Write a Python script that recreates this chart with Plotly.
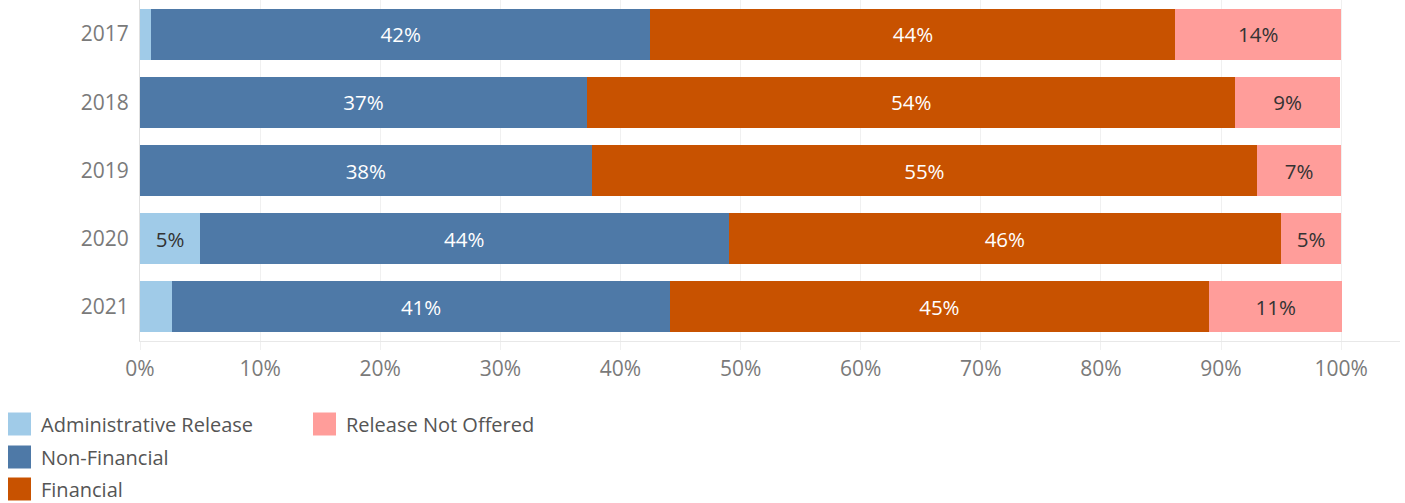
import plotly.graph_objects as go

years = ["2017", "2018", "2019", "2020", "2021"]
series_names = ["Administrative Release", "Non-Financial", "Financial", "Release Not Offered"]
admin = [0.9, 0.0, 0.0, 5.0, 2.7]
non_financial = [41.6, 37.2, 37.6, 44.0, 41.4]
financial = [43.7, 54.0, 55.4, 46.0, 44.9]
not_offered = [13.8, 8.7, 7.0, 5.0, 11.1]
x_ticks = [0, 10, 20, 30, 40, 50, 60, 70, 80, 90, 100]
x_tick_labels = [f"{t}%" for t in x_ticks]

colors = ["#a0cbe8", "#4e79a7", "#c85200", "#ff9d9a"]
text_colors = ["#333333", "#ffffff", "#ffffff", "#333333"]
series = [admin, non_financial, financial, not_offered]

FONT = "Open Sans, sans-serif"

W, H = 1405, 503
ML, MR, MT, MB = 140, 5, 0, 162
PW, PH = W - ML - MR, H - MT - MB

fig = go.Figure()
for name, vals, col, tcol in zip(series_names, series, colors, text_colors):
    labels = [f"{round(v)}%" if v >= 4 else "" for v in vals]
    fig.add_trace(go.Bar(
        y=years, x=vals, name=name, orientation="h",
        marker=dict(color=col, line=dict(width=0)),
        text=labels, textposition="inside", insidetextanchor="middle",
        textangle=0, constraintext="none",
        textfont=dict(color=tcol, size=20.5, family=FONT),
        showlegend=False, hoverinfo="x+y+name",
    ))

fig.update_layout(
    barmode="stack",
    bargap=0.25,
    width=W, height=H,
    margin=dict(l=ML, r=MR, t=MT, b=MB),
    plot_bgcolor="white", paper_bgcolor="white",
    font=dict(family=FONT, color="#777777", size=18),
    xaxis=dict(
        range=[0, 104.9], tickvals=x_ticks, ticktext=x_tick_labels,
        showgrid=True, gridcolor="#f0f0f0", gridwidth=1,
        zeroline=False, showline=True, linecolor="#e8e8e8", linewidth=1,
        ticks="outside", ticklen=8, tickcolor="#f0f0f0",
        ticklabelstandoff=1,
        tickfont=dict(size=21, color="#7a7a7a", family=FONT),
    ),
    yaxis=dict(
        autorange="reversed", showgrid=False, zeroline=False,
        showline=True, linecolor="#e0e0e0", linewidth=1,
        ticks="", ticklabelstandoff=6,
        tickfont=dict(size=21, color="#7a7a7a", family=FONT),
    ),
)

# Manual legend (column-major like the original)
legend_pos = [(0, 0), (0, 1), (0, 2), (1, 0)]
col_x = [8, 313]
row_y = [424, 457, 489]
SQ = 23


def px_x(x):
    return (x - ML) / PW


def px_y(y):
    return (H - MB - y) / PH


for (c, r), name, col in zip(legend_pos, series_names, colors):
    x0 = col_x[c]
    yc = row_y[r]
    fig.add_shape(type="rect", xref="paper", yref="paper",
                  x0=px_x(x0), x1=px_x(x0 + SQ),
                  y0=px_y(yc + SQ / 2), y1=px_y(yc - SQ / 2),
                  fillcolor=col, line=dict(width=0))
    fig.add_annotation(xref="paper", yref="paper",
                       x=px_x(x0 + 31), y=px_y(yc),
                       text=name, showarrow=False, xanchor="left", yanchor="middle",
                       font=dict(size=20, color="#555555", family=FONT))

fig.write_html("out.html", config={"displayModeBar": False},
               post_script="document.body.style.margin='0px';")
